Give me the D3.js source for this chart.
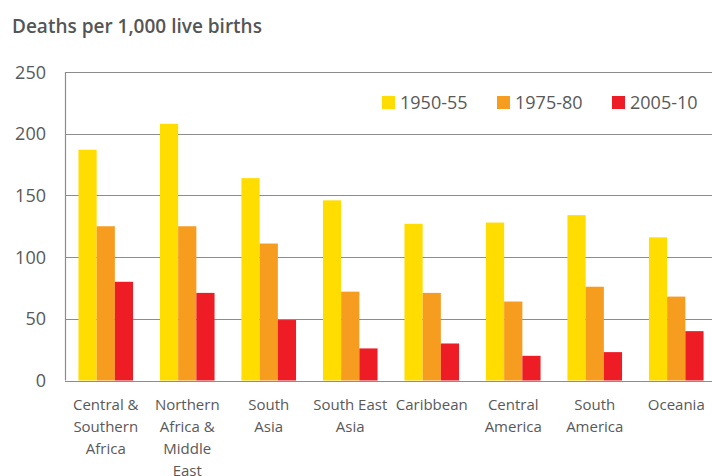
<!DOCTYPE html>
<meta charset="utf-8">
<head>
    <script type="text/javascript" src="https://cdn.jsdelivr.net/npm/d3@7"></script>
    <style>
        body { margin: 0; background: #fff; }
        text { font-family: "Open Sans", sans-serif; fill: #595959; }
    </style>
    <title>Deaths per 1,000 live births</title>
</head>
<body>
<script>
    // data
    var regions = ["Central & Southern Africa", "Northern Africa & Middle East", "South Asia",
        "South East Asia", "Caribbean", "Central America", "South America", "Oceania"];
    var regionLines = [["Central &", "Southern", "Africa"], ["Northern", "Africa &", "Middle", "East"],
        ["South", "Asia"], ["South East", "Asia"], ["Caribbean"], ["Central", "America"],
        ["South", "America"], ["Oceania"]];
    var periods = ["1950-55", "1975-80", "2005-10"];
    var v1950 = [187, 208, 164, 146, 127, 128, 134, 116];
    var v1975 = [125, 125, 111, 72, 71, 64, 76, 68];
    var v2005 = [80, 71, 49, 26, 30, 20, 23, 40];
    var yTicks = [0, 50, 100, 150, 200, 250];
    var colors = ["#ffdd00", "#f69c1f", "#ee1d25"];

    var width = 712, height = 476;
    var margin = {top: 72, right: 0, bottom: 96, left: 65};

    var svg = d3.select("body").append("svg")
        .attr("width", width)
        .attr("height", height);

    var x = d3.scaleBand()
        .domain(regions)
        .range([margin.left, 717])
        .paddingInner(0.33)
        .paddingOuter(0.165);

    var xSub = d3.scaleBand()
        .domain(periods)
        .range([0, x.bandwidth()]);

    var y = d3.scaleLinear()
        .domain([0, 250])
        .range([380.5, margin.top]);

    // title
    svg.append("text")
        .attr("x", 12)
        .attr("y", 33)
        .style("font-size", "19px")
        .style("font-weight", 600)
        .style("fill", "#555")
        .text("Deaths per 1,000 live births");

    // gridlines
    svg.append("g").selectAll("line")
        .data(yTicks)
        .enter().append("line")
        .attr("x1", margin.left)
        .attr("x2", width)
        .attr("y1", d => Math.round(y(d)) + 0.5)
        .attr("y2", d => Math.round(y(d)) + 0.5)
        .style("stroke", "#8c8c8c")
        .style("stroke-width", 1.2);

    svg.append("line")
        .attr("x1", margin.left + 0.5).attr("x2", margin.left + 0.5)
        .attr("y1", y(250)).attr("y2", y(0))
        .style("stroke", "#8c8c8c")
        .style("stroke-width", 1.2);

    // y tick labels
    svg.append("g").selectAll("text")
        .data(yTicks)
        .enter().append("text")
        .attr("x", 46)
        .attr("y", d => y(d) + 6.5)
        .attr("text-anchor", "end")
        .style("font-size", "18px")
        .text(d => d);

    // bars
    var series = [v1950, v1975, v2005];
    var groups = svg.append("g").selectAll("g")
        .data(regions)
        .enter().append("g")
        .attr("transform", d => "translate(" + x(d) + ",0)");

    groups.selectAll("rect")
        .data((d, i) => periods.map((p, j) => ({period: p, value: series[j][i], c: colors[j]})))
        .enter().append("rect")
        .attr("x", d => xSub(d.period))
        .attr("width", xSub.bandwidth())
        .attr("y", d => y(d.value))
        .attr("height", d => y(0) - y(d.value))
        .style("fill", d => d.c);

    // x labels
    var labels = svg.append("g").selectAll("text")
        .data(regions)
        .enter().append("text")
        .attr("x", d => x(d) + x.bandwidth() / 2)
        .attr("y", 410)
        .attr("text-anchor", "middle")
        .style("font-size", "15px");

    labels.selectAll("tspan")
        .data((d, i) => regionLines[i])
        .enter().append("tspan")
        .attr("x", function () { return d3.select(this.parentNode).attr("x"); })
        .attr("dy", (d, i) => i === 0 ? 0 : 22)
        .text(d => d);

    // legend
    var legendX = [382, 497, 612];
    var legend = svg.append("g").selectAll("g")
        .data(periods)
        .enter().append("g")
        .attr("transform", (d, i) => "translate(" + legendX[i] + ",96)");

    legend.append("rect")
        .attr("width", 13)
        .attr("height", 13)
        .style("fill", (d, i) => colors[i]);

    legend.append("text")
        .attr("x", 18)
        .attr("y", 13)
        .style("font-size", "18px")
        .text(d => d);
</script>
</body>
</html>
